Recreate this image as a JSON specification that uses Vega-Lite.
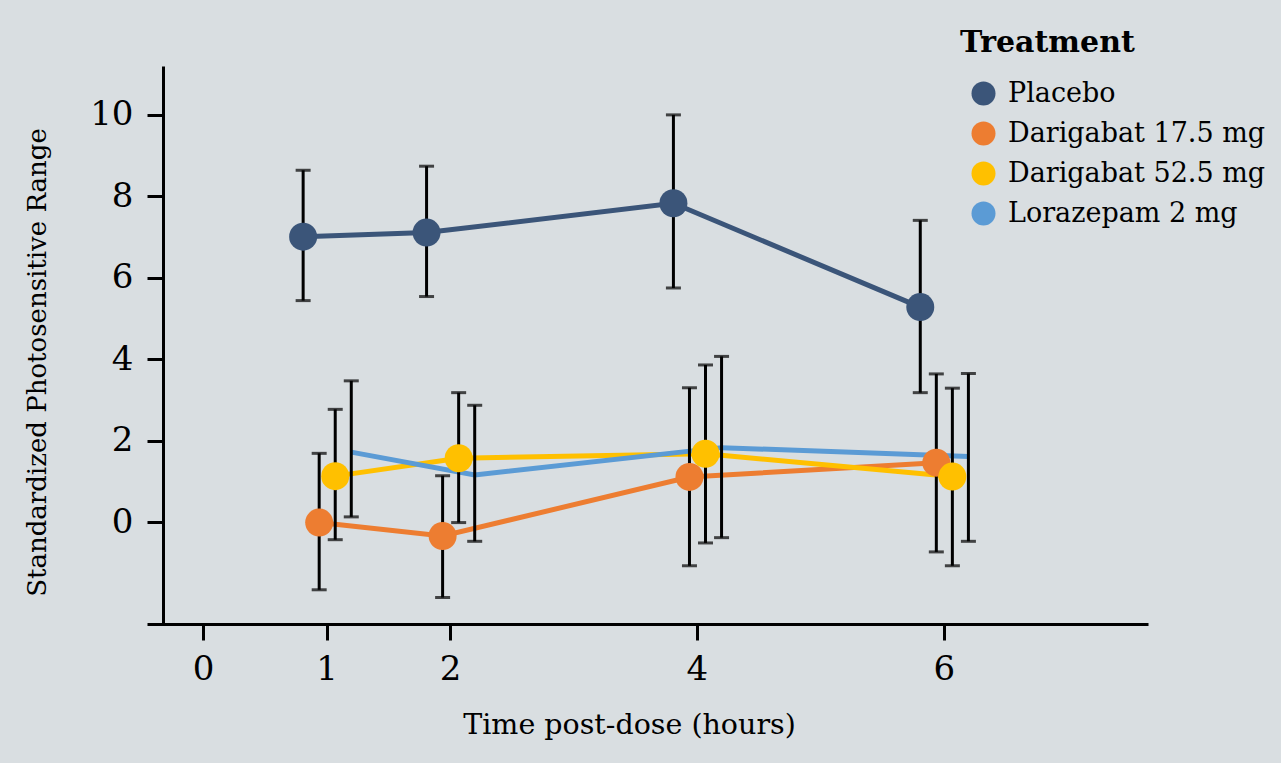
{
  "$schema": "https://vega.github.io/schema/vega-lite/v6.json",
  "width": 1001,
  "height": 558,
  "autosize": {"type": "none"},
  "padding": {"left": 147, "top": 66, "right": 133, "bottom": 139},
  "background": "#d9dee1",
  "config": {
    "view": {"stroke": null},
    "font": "DejaVu Serif",
    "axis": {
      "grid": false,
      "domainColor": "black",
      "domainWidth": 3,
      "tickColor": "black",
      "tickWidth": 3,
      "tickSize": 16,
      "labelColor": "black",
      "titleColor": "black",
      "labelFont": "DejaVu Serif",
      "titleFont": "DejaVu Serif",
      "labelFontSize": 34,
      "titleFontSize": 26,
      "titleFontWeight": "normal"
    }
  },
  "data": {
    "values": [
      {"treatment": "Placebo", "time": 1, "mean": 7.01, "lo": 5.44, "hi": 8.64},
      {"treatment": "Placebo", "time": 2, "mean": 7.11, "lo": 5.54, "hi": 8.74},
      {"treatment": "Placebo", "time": 4, "mean": 7.83, "lo": 5.75, "hi": 10.0},
      {"treatment": "Placebo", "time": 6, "mean": 5.28, "lo": 3.18, "hi": 7.41},
      {"treatment": "Darigabat 17.5 mg", "time": 1, "mean": -0.01, "lo": -1.66, "hi": 1.69},
      {"treatment": "Darigabat 17.5 mg", "time": 2, "mean": -0.34, "lo": -1.85, "hi": 1.14},
      {"treatment": "Darigabat 17.5 mg", "time": 4, "mean": 1.11, "lo": -1.07, "hi": 3.30},
      {"treatment": "Darigabat 17.5 mg", "time": 6, "mean": 1.46, "lo": -0.73, "hi": 3.64},
      {"treatment": "Darigabat 52.5 mg", "time": 1, "mean": 1.13, "lo": -0.43, "hi": 2.77},
      {"treatment": "Darigabat 52.5 mg", "time": 2, "mean": 1.57, "lo": -0.01, "hi": 3.18},
      {"treatment": "Darigabat 52.5 mg", "time": 4, "mean": 1.68, "lo": -0.51, "hi": 3.86},
      {"treatment": "Darigabat 52.5 mg", "time": 6, "mean": 1.12, "lo": -1.07, "hi": 3.29},
      {"treatment": "Lorazepam 2 mg", "time": 1, "mean": 1.72, "lo": 0.13, "hi": 3.47},
      {"treatment": "Lorazepam 2 mg", "time": 2, "mean": 1.16, "lo": -0.47, "hi": 2.87},
      {"treatment": "Lorazepam 2 mg", "time": 4, "mean": 1.83, "lo": -0.38, "hi": 4.07},
      {"treatment": "Lorazepam 2 mg", "time": 6, "mean": 1.61, "lo": -0.47, "hi": 3.65}
    ]
  },
  "transform": [
    {"calculate": "datum.time + (datum.treatment === 'Placebo' ? -0.19 : datum.treatment === 'Darigabat 17.5 mg' ? -0.06 : datum.treatment === 'Darigabat 52.5 mg' ? 0.07 : 0.2)", "as": "t"}
  ],
  "encoding": {
    "x": {
      "field": "t",
      "type": "quantitative",
      "scale": {"domain": [-0.455, 7.655], "nice": false, "zero": false},
      "axis": {
        "title": "Time post-dose (hours)",
        "values": [0, 1, 2, 4, 6],
        "labelPadding": 12,
        "titleFontSize": 28.5,
        "titleX": 482,
        "titleY": 100,
        "titleBaseline": "middle",
        "titleAlign": "center"
      }
    }
  },
  "layer": [
    {
      "mark": {"type": "line", "strokeWidth": 5},
      "encoding": {
        "y": {
          "field": "mean",
          "type": "quantitative",
          "scale": {"domain": [-2.5, 11.2], "nice": false, "zero": false},
          "axis": {
            "title": "Standardized Photosensitive Range",
            "values": [0, 2, 4, 6, 8, 10],
            "offset": -16,
            "labelPadding": 14,
            "titleX": -126,
            "titleY": 296,
            "titleAngle": -90,
            "titleBaseline": "middle",
            "titleAlign": "center"
          }
        },
        "color": {
          "field": "treatment",
          "type": "nominal",
          "scale": {
            "domain": ["Placebo", "Darigabat 17.5 mg", "Darigabat 52.5 mg", "Lorazepam 2 mg"],
            "range": ["#3b5579", "#ed7d31", "#ffc000", "#5b9bd5"]
          },
          "legend": {
            "title": "Treatment",
            "orient": "none",
            "legendX": 813,
            "legendY": -38,
            "titleFont": "DejaVu Serif",
            "titleFontSize": 30,
            "titleFontWeight": "bold",
            "titleColor": "black",
            "titlePadding": 22,
            "labelFont": "DejaVu Serif",
            "labelFontSize": 27,
            "labelColor": "black",
            "labelLimit": 400,
            "labelOffset": 11,
            "rowPadding": 12,
            "symbolOffset": 10,
            "symbolType": "circle",
            "symbolSize": 576,
            "symbolStrokeWidth": 0
          }
        },
        "detail": {"field": "treatment"}
      }
    },
    {
      "mark": {"type": "errorbar", "color": "black", "thickness": 3, "ticks": {"size": 15, "thickness": 3, "color": "black"}},
      "encoding": {
        "y": {"field": "lo", "type": "quantitative", "title": "Standardized Photosensitive Range"},
        "y2": {"field": "hi"},
        "detail": {"field": "treatment"}
      }
    },
    {
      "transform": [{"filter": "datum.treatment !== 'Lorazepam 2 mg'"}],
      "mark": {"type": "circle", "size": 784, "opacity": 1},
      "encoding": {
        "y": {"field": "mean", "type": "quantitative", "title": "Standardized Photosensitive Range"},
        "color": {"field": "treatment", "type": "nominal"}
      }
    }
  ]
}
